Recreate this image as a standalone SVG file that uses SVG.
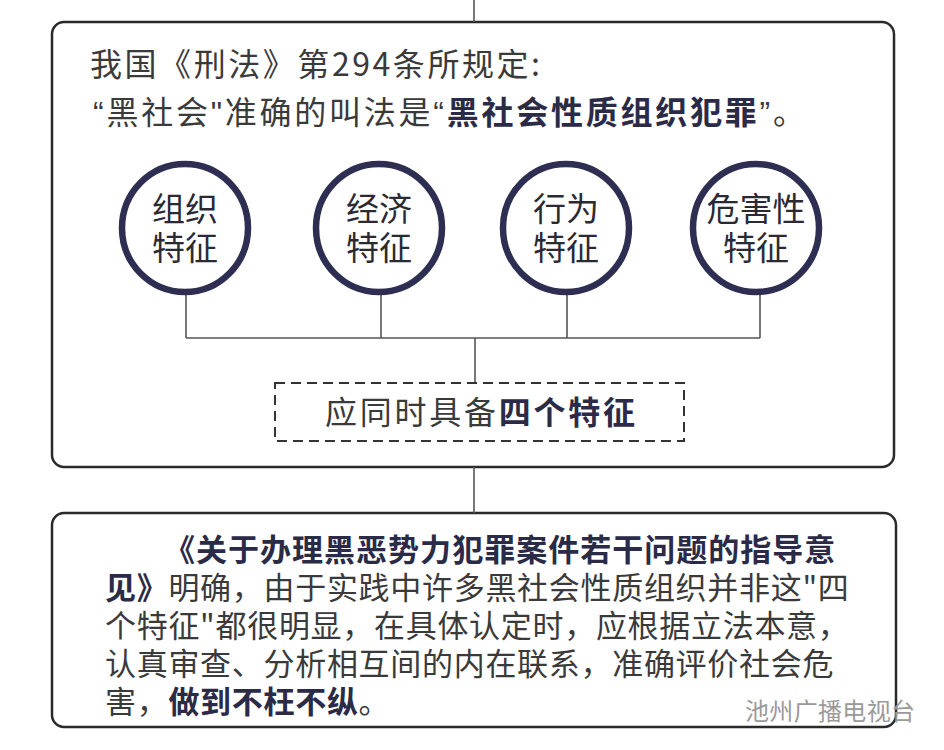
<svg xmlns="http://www.w3.org/2000/svg" width="944" height="750" viewBox="0 0 944 750">
<style>
text{font-family:"Noto Sans CJK SC","Noto Sans",sans-serif;fill:#3a3a3a}
.q{font-family:"Liberation Sans",sans-serif}
.b{font-weight:bold;fill:#2b2b48}
.box{fill:#fff;stroke:#2a2a2a;stroke-width:2.5}
.circ{fill:#fff;stroke:#2e2e52;stroke-width:6.5}
.ln{stroke:#555;stroke-width:1.6;fill:none}
.ct{font-size:33px;text-anchor:middle;fill:#2a2a35}
.top{font-size:32px}
.body{font-size:31px;letter-spacing:0.7px}
</style>
<rect width="944" height="750" fill="#fff"/>
<g id="box1">
<rect class="box" x="52" y="22" width="842" height="445" rx="12"/>
<text class="top" x="90" y="76" textLength="450" lengthAdjust="spacing">我国《刑法》第294条所规定:</text>
<text class="top" x="93" y="124" textLength="712" lengthAdjust="spacing"><tspan class="q">“</tspan>黑社会<tspan class="q">"</tspan>准确的叫法是<tspan class="q">“</tspan><tspan class="b">黑社会性质组织犯罪</tspan><tspan class="q">”</tspan>。</text>
</g>
<g id="box2">
<rect class="box" x="52" y="513" width="844" height="214" rx="12"/>
<text class="body b" x="164" y="561" textLength="672" lengthAdjust="spacing">《关于办理黑恶势力犯罪案件若干问题的指导意</text>
<text class="body" x="105" y="599"><tspan class="b">见》</tspan>明确，由于实践中许多黑社会性质组织并非这"四</text>
<text class="body" x="105" y="637">个特征"都很明显，在具体认定时，应根据立法本意，</text>
<text class="body" x="105" y="675">认真审查、分析相互间的内在联系，准确评价社会危</text>
<text class="body" x="105" y="713">害，<tspan class="b">做到不枉不纵</tspan>。</text>
</g>
<g id="connectors">
<line class="ln" x1="474" y1="0" x2="474" y2="22"/>
<line class="ln" x1="474" y1="467" x2="474" y2="513"/>
<line class="ln" x1="186" y1="294" x2="186" y2="338"/>
<line class="ln" x1="381" y1="294" x2="381" y2="338"/>
<line class="ln" x1="567" y1="294" x2="567" y2="338"/>
<line class="ln" x1="760" y1="294" x2="760" y2="338"/>
<line class="ln" x1="186" y1="338" x2="760" y2="338"/>
<line class="ln" x1="475" y1="338" x2="475" y2="383"/>
</g>
<g id="c1"><ellipse class="circ" cx="185" cy="228" rx="63" ry="64"/><text class="ct" x="185" y="221">组织</text><text class="ct" x="185" y="260">特征</text></g>
<g id="c2"><ellipse class="circ" cx="379" cy="228" rx="63" ry="64"/><text class="ct" x="379" y="221">经济</text><text class="ct" x="379" y="260">特征</text></g>
<g id="c3"><ellipse class="circ" cx="566" cy="228" rx="63" ry="64"/><text class="ct" x="566" y="221">行为</text><text class="ct" x="566" y="260">特征</text></g>
<g id="c4"><ellipse class="circ" cx="756" cy="228" rx="63" ry="64"/><text class="ct" x="756" y="221">危害性</text><text class="ct" x="756" y="260">特征</text></g>
<g id="dashed">
<rect x="275" y="383" width="409" height="58" fill="#fff" stroke="#333" stroke-width="2" stroke-dasharray="10,6"/>
<text x="325" y="424" font-size="32" textLength="310" lengthAdjust="spacing">应同时具备<tspan class="b">四个特征</tspan></text>
</g>
<text x="745" y="720" font-size="24" textLength="170" lengthAdjust="spacing" style="fill:#9a9a9a">池州广播电视台</text>
</svg>
